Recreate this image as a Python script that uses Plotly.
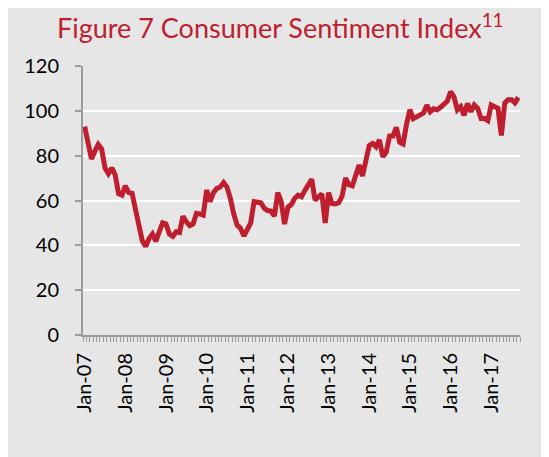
import plotly.graph_objects as go
import pandas as pd

# Monthly index values, Jan 2007 .. Sep 2017
values = [
    93, 86, 78.5, 82, 85, 83, 74.5, 72, 74.5, 71.5, 63, 62.4,          # 2007
    66.5, 63.5, 63.2, 56, 48.5, 42, 39.5, 43, 45, 41.8, 46, 50,         # 2008
    49.5, 45, 44, 46, 45.7, 53, 50.5, 48.8, 49.5, 54.3, 54, 53.5,       # 2009
    64.7, 59.5, 63.5, 65.4, 66, 68, 66, 61, 54, 49, 47.6, 44.2,         # 2010
    47, 50, 59.5, 59, 59, 56.5, 55.5, 55.3, 53, 63.5, 59.5, 49.5,       # 2011
    57, 58.2, 61, 62.4, 61.7, 64.5, 67, 69.5, 60.2, 62, 63, 50,         # 2012
    63.5, 58.7, 58.5, 59, 62, 70, 67, 66.5, 71, 75.8, 70.9, 79,         # 2013
    84.5, 85.5, 84, 87, 79.5, 81.5, 88.8, 88.8, 92.6, 86, 85.2, 94,     # 2014
    100.5, 96.5, 97.5, 98, 99, 102.5, 99.6, 100.9, 100.5, 101.5, 102.8, 104.2,  # 2015
    108.5, 106.3, 100.5, 101.9, 98, 103.3, 99.6, 102.6, 101.1, 96.6, 96.6, 95.6,  # 2016
    102.6, 101.9, 101.1, 89, 103.5, 105, 105, 103.6, 106,               # 2017
]
months = pd.date_range("2007-01-01", periods=len(values), freq="MS")
x_idx = list(range(len(values)))
tick_labels = [m.strftime("%b-%y") for m in months if m.month == 1]
tick_pos = [i for i, m in enumerate(months) if m.month == 1]
y_ticks = [0, 20, 40, 60, 80, 100, 120]

RED = "#BE1E2D"
GRAY_BG = "#E6E6E6"
AXIS = "#9A9A9A"
FONT = "Lato, 'Open Sans', sans-serif"

fig = go.Figure()
fig.add_trace(go.Scatter(
    x=x_idx, y=values, mode="lines",
    line=dict(color=RED, width=5, shape="linear"),
    hoverinfo="skip", showlegend=False,
))

W, H = 541, 449
L, R, T, B = 75, 29, 58, 122
pw = W - L - R
ph = H - T - B

fig.add_annotation(
    text="Figure 7 Consumer Sentiment Index<sup>11</sup>",
    xref="paper", yref="paper",
    x=(272 - L) / pw, y=(ph + T - 18) / ph,
    xanchor="center", yanchor="middle", showarrow=False,
    font=dict(family=FONT, size=27, color=RED),
)

fig.update_layout(
    width=W, height=H,
    margin=dict(l=L, r=R, t=T, b=B, pad=0, autoexpand=False),
    paper_bgcolor=GRAY_BG,
    plot_bgcolor=GRAY_BG,
    font=dict(family=FONT, color="black"),
    xaxis=dict(
        range=[-0.5, len(values) - 0.5], automargin=False,
        tickmode="array", tickvals=tick_pos, ticktext=tick_labels,
        tickangle=-90, ticks="", showgrid=False, zeroline=False,
        showline=True, linecolor=AXIS, linewidth=2,
        tickfont=dict(family=FONT, size=20, color="black"),
        ticklabelstandoff=8,
        minor=dict(tickmode="linear", tick0=-0.5, dtick=1, ticks="outside",
                   ticklen=5, tickcolor=AXIS, tickwidth=1, showgrid=False),
    ),
    yaxis=dict(
        range=[0, 120], tickmode="array", tickvals=y_ticks, automargin=False,
        ticks="outside", ticklen=6, tickcolor=AXIS, tickwidth=2,
        showline=True, linecolor=AXIS, linewidth=2,
        showgrid=True, gridcolor="white", gridwidth=2,
        zeroline=False,
        tickfont=dict(family=FONT, size=20, color="black"),
        ticklabelstandoff=12,
    ),
)

fig.write_html("out.html")
